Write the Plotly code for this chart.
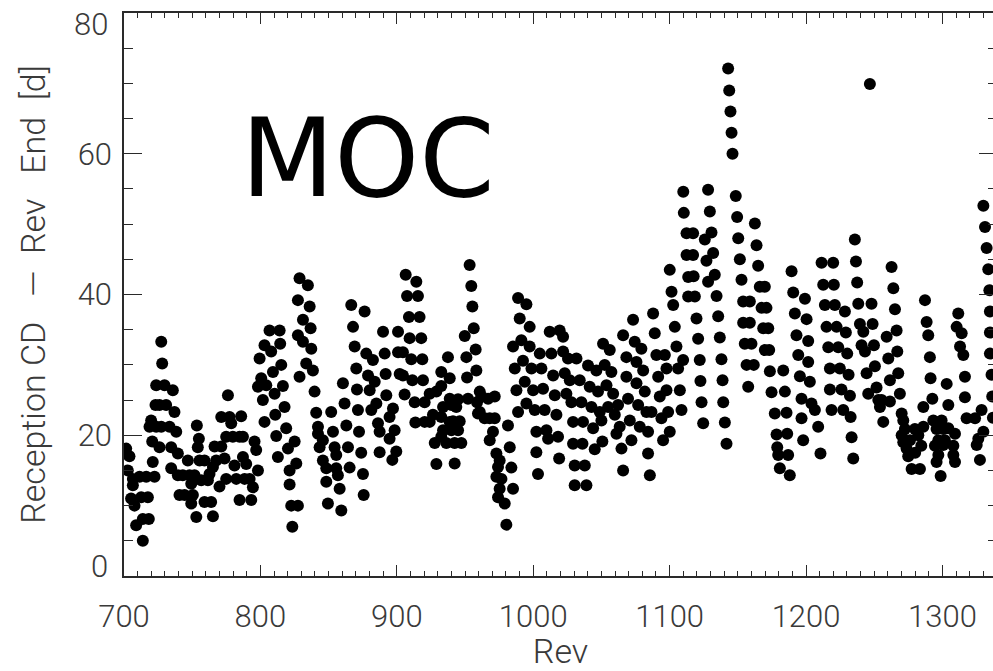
import plotly.graph_objects as go

# (rev, reception-CD delay in days) readings, grouped by rev range
revs_700s = [
    (701.6, 18.1), (704.0, 17.0), (702.8, 15.0), (706.5, 13.8), (706.5, 12.9), (705.2, 11.0),
    (707.7, 10.0), (708.9, 7.2), (713.8, 5.0), (711.4, 14.1), (716.3, 14.1), (712.6, 11.2),
    (717.5, 11.2), (713.8, 8.1), (718.2, 8.1), (722.4, 14.1), (721.1, 16.2), (720.7, 19.1),
    (718.7, 21.2), (719.9, 22.1), (723.6, 21.2), (723.1, 24.3), (723.6, 27.1), (728.0, 30.2),
    (727.3, 33.3), (726.0, 24.3), (729.7, 27.1), (726.0, 18.3), (727.3, 21.2), (730.9, 24.3),
    (733.4, 21.2), (734.6, 18.3), (735.8, 26.4), (737.0, 23.3), (738.3, 20.5), (739.5, 17.4),
    (734.6, 15.3), (739.5, 14.3), (743.1, 14.3), (740.7, 11.5), (744.4, 11.5), (746.8, 16.4),
    (748.0, 14.3), (749.3, 13.1), (751.7, 14.3), (750.5, 11.5), (749.3, 10.3), (753.0, 8.4),
    (753.4, 21.4), (754.9, 19.5), (754.1, 18.3), (755.4, 16.4), (759.0, 16.4), (756.6, 13.6),
    (761.5, 13.6), (759.0, 10.5), (763.9, 10.5), (765.2, 8.5), (762.7, 14.5), (765.2, 15.5),
    (767.6, 16.4), (770.0, 12.7), (766.4, 18.4), (771.3, 18.4), (771.3, 22.6), (773.7, 16.7),
    (774.9, 19.8), (776.2, 25.7), (777.4, 22.6), (778.6, 21.7), (774.9, 13.8), (779.8, 19.8),
    (781.0, 15.7), (782.3, 13.8), (784.7, 10.8), (785.9, 22.7), (784.7, 19.8), (787.2, 16.9),
    (787.2, 19.8), (789.6, 15.9), (788.4, 13.8), (792.1, 13.8), (793.3, 10.8), (794.5, 12.6),
    (795.7, 19.1), (796.9, 17.9), (798.2, 15.0), (798.2, 26.9), (799.4, 30.9),
]

revs_800s = [
    (800.6, 28.1), (801.8, 25.0), (803.0, 21.9), (803.0, 32.8), (804.3, 27.1), (806.7, 34.9),
    (807.9, 31.9), (809.2, 29.0), (810.4, 25.9), (810.9, 22.9), (811.6, 19.9), (812.8, 16.9),
    (814.1, 34.9), (814.5, 33.0), (815.3, 30.0), (816.5, 27.0), (817.7, 24.0), (818.9, 21.0),
    (820.2, 18.1), (821.4, 15.0), (821.4, 13.0), (822.6, 10.0), (823.4, 7.0), (827.5, 10.0),
    (825.1, 19.1), (826.3, 16.0), (828.7, 42.3), (827.5, 39.2), (827.5, 34.2), (828.7, 28.3),
    (831.2, 36.4), (831.2, 33.3), (833.6, 30.2), (834.8, 41.3), (836.1, 38.3), (836.8, 35.2),
    (837.3, 32.3), (838.5, 29.2), (839.7, 26.2), (840.9, 23.2), (842.2, 21.2), (842.2, 20.2),
    (843.4, 18.3), (845.8, 19.3), (845.8, 16.4), (848.3, 15.3), (848.3, 13.4), (849.5, 10.3),
    (851.9, 23.3), (853.2, 20.5), (854.4, 18.3), (855.6, 17.2), (855.6, 15.3), (856.8, 14.3),
    (858.1, 12.4), (859.3, 9.3), (860.5, 27.4), (861.7, 24.5), (863.0, 21.4), (864.2, 18.3),
    (865.4, 15.4), (866.6, 38.5), (867.9, 35.4), (869.1, 32.6), (870.3, 29.5), (870.8, 26.5),
    (871.5, 23.6), (872.3, 20.5), (873.9, 17.5), (875.2, 14.5), (875.7, 11.5), (876.4, 37.6),
    (877.6, 31.6), (878.9, 28.5), (880.1, 26.4), (881.3, 23.6), (882.5, 30.7), (883.8, 27.6),
    (885.0, 24.5), (886.2, 21.7), (887.4, 20.5), (887.4, 17.6), (889.9, 34.7), (891.1, 31.6),
    (891.8, 28.7), (892.3, 25.7), (894.7, 22.6), (894.7, 19.5), (896.7, 16.5), (897.2, 23.8),
    (898.4, 20.7), (899.6, 17.7),
]

revs_900s = [
    (900.9, 34.7), (900.9, 31.8), (902.1, 28.7), (904.5, 31.8), (904.5, 28.5), (905.7, 25.8),
    (906.5, 42.8), (907.5, 39.8), (908.9, 36.8), (909.4, 33.8), (910.6, 30.8), (911.4, 27.8),
    (913.1, 24.7), (913.6, 21.8), (914.3, 41.8), (915.5, 39.8), (916.7, 36.8), (917.9, 33.8),
    (918.7, 30.8), (919.2, 27.8), (920.4, 24.7), (920.4, 21.9), (924.1, 25.9), (924.1, 21.9),
    (926.5, 22.9), (927.8, 18.9), (929.0, 26.2), (929.0, 15.9), (932.6, 29.0), (932.6, 27.0),
    (932.6, 22.6), (932.6, 19.8), (933.9, 24.0), (933.9, 20.7), (936.3, 18.9), (937.5, 31.1),
    (938.8, 28.1), (938.8, 25.2), (938.8, 21.9), (940.0, 24.3), (940.0, 20.7), (941.2, 22.0),
    (942.4, 18.9), (942.4, 16.0), (943.6, 24.0), (944.9, 25.1), (944.9, 20.7), (946.1, 22.0),
    (947.3, 18.9), (949.8, 34.1), (951.0, 31.1), (951.5, 28.2), (952.2, 25.2), (953.4, 44.2),
    (954.6, 41.2), (955.4, 38.3), (956.4, 35.2), (957.8, 32.2), (958.3, 29.2), (958.8, 24.7),
    (959.5, 23.1), (960.8, 26.2), (962.0, 25.5), (960.8, 23.3), (964.4, 22.4), (966.9, 25.2),
    (968.1, 22.4), (968.1, 19.3), (970.5, 20.5), (971.8, 22.4), (971.8, 25.5), (973.0, 17.4),
    (973.0, 14.1), (974.2, 15.5), (974.2, 11.2), (975.4, 16.4), (975.4, 12.4), (976.7, 13.8),
    (979.1, 10.3), (980.3, 7.3), (981.5, 21.4), (982.8, 18.3), (984.0, 15.4), (985.2, 12.4),
    (985.2, 32.6), (986.5, 29.5), (987.7, 26.4), (988.9, 23.3), (988.9, 39.5), (990.1, 36.6),
    (991.3, 33.5), (992.5, 30.6), (993.8, 27.6), (995.0, 24.5), (995.0, 38.6), (997.4, 35.4),
    (997.4, 32.6), (998.7, 29.5), (999.9, 26.4),
]

revs_1000s = [
    (1001.1, 23.6), (1002.3, 20.5), (1002.3, 17.6), (1003.5, 14.5), (1004.8, 31.6), (1006.0, 29.5),
    (1007.2, 26.6), (1008.4, 23.6), (1009.7, 20.7), (1010.9, 19.5), (1012.1, 34.7), (1013.3, 31.6),
    (1014.6, 28.5), (1015.8, 25.7), (1017.0, 22.9), (1018.2, 19.8), (1019.0, 16.7), (1019.4, 34.9),
    (1021.9, 34.0), (1021.9, 31.9), (1023.1, 28.8), (1024.3, 25.9), (1025.5, 30.9), (1026.8, 27.8),
    (1028.0, 24.7), (1029.2, 21.9), (1029.2, 18.8), (1030.4, 15.7), (1030.4, 12.9), (1031.7, 30.9),
    (1034.1, 27.8), (1035.3, 24.7), (1036.5, 21.9), (1036.1, 18.8), (1037.8, 15.7), (1039.0, 12.9),
    (1040.2, 29.9), (1041.4, 26.9), (1042.7, 24.0), (1043.9, 21.0), (1045.1, 18.0), (1046.3, 29.2),
    (1047.5, 26.2), (1048.8, 23.3), (1050.0, 22.1), (1050.7, 19.1), (1051.2, 33.0), (1052.4, 30.0),
    (1053.7, 27.1), (1054.9, 24.0), (1056.1, 32.1), (1057.3, 29.0), (1058.6, 25.9), (1059.8, 22.9),
    (1061.0, 20.2), (1062.2, 24.3), (1063.4, 21.2), (1064.7, 18.1), (1065.9, 15.0), (1065.9, 34.2),
    (1068.3, 31.1), (1068.3, 28.3), (1069.5, 25.2), (1070.8, 22.1), (1072.0, 19.3), (1073.2, 36.4),
    (1074.4, 33.3), (1075.7, 30.4), (1075.7, 27.4), (1076.9, 24.3), (1078.1, 21.2), (1079.3, 32.3),
    (1080.6, 29.2), (1081.8, 26.2), (1083.0, 23.3), (1084.2, 20.5), (1084.2, 17.4), (1085.5, 14.3),
    (1086.7, 23.3), (1087.9, 37.3), (1089.1, 34.5), (1090.3, 31.4), (1091.6, 28.3), (1092.8, 25.5),
    (1094.0, 22.4), (1095.2, 19.3), (1096.5, 31.4), (1097.7, 29.5), (1097.7, 26.4), (1098.9, 23.3),
]

revs_1100s = [
    (1100.1, 20.5), (1100.1, 43.5), (1101.4, 40.4), (1102.6, 38.5), (1103.8, 35.4), (1105.0, 32.6),
    (1106.2, 29.5), (1107.5, 26.4), (1108.7, 23.6), (1109.9, 30.7),
    (1110.0, 54.6), (1110.4, 51.6), (1112.4, 48.7), (1112.4, 45.6), (1113.6, 42.5), (1113.6, 39.7),
    (1117.2, 48.7), (1117.2, 45.6), (1117.6, 42.6), (1118.5, 39.7), (1119.7, 36.6), (1120.9, 33.7),
    (1122.1, 30.7), (1122.6, 27.7), (1123.4, 24.7), (1124.6, 21.7),
    (1125.8, 47.8), (1127.0, 44.8), (1128.2, 41.8),
    (1128.2, 54.9), (1129.5, 51.8), (1130.7, 48.8), (1131.9, 45.9), (1133.1, 42.8), (1134.4, 39.8),
    (1135.6, 36.9), (1136.8, 33.9), (1138.0, 30.8), (1138.8, 27.8), (1139.3, 24.7), (1140.5, 21.8),
    (1141.7, 18.8),
    (1142.9, 72.1), (1143.7, 69.0), (1144.6, 66.0), (1145.4, 63.0), (1146.1, 60.0),
    (1148.5, 54.0), (1149.5, 51.0), (1150.3, 48.0), (1151.5, 45.0), (1152.7, 42.1), (1153.9, 39.0),
    (1153.9, 36.0), (1155.1, 33.0), (1156.4, 30.0), (1157.6, 26.9),
    (1158.8, 39.0), (1158.8, 36.0), (1160.0, 33.0), (1161.7, 30.0),
    (1162.5, 50.1), (1163.7, 47.0), (1164.9, 44.1), (1166.1, 41.1), (1167.4, 38.1), (1168.6, 35.2),
    (1169.8, 32.1), (1169.8, 41.1), (1171.0, 38.1), (1172.3, 35.2), (1173.0, 32.1), (1173.5, 29.1),
    (1174.7, 26.1), (1177.1, 23.1), (1178.4, 20.1), (1178.9, 18.3), (1179.6, 17.2), (1180.8, 15.3),
    (1183.3, 29.2), (1184.5, 26.2), (1185.7, 23.2), (1186.2, 20.2), (1186.9, 17.2), (1188.1, 14.3),
    (1189.4, 43.3), (1190.6, 40.3), (1191.8, 37.3), (1193.0, 34.2), (1194.3, 31.4), (1195.5, 28.4),
    (1196.7, 25.2), (1196.7, 22.4), (1197.9, 19.3), (1199.2, 39.4),
]

revs_1200s = [
    (1200.4, 36.5), (1201.6, 33.4), (1201.6, 30.4), (1202.8, 27.6), (1204.0, 24.5), (1206.5, 23.6),
    (1208.9, 21.2), (1210.6, 17.4),
    (1211.4, 44.5), (1212.6, 41.4), (1213.8, 38.5), (1215.0, 35.4), (1216.3, 32.5), (1217.5, 29.5),
    (1217.5, 26.5), (1218.7, 23.6),
    (1219.9, 44.5), (1220.4, 41.4), (1221.1, 38.5), (1222.4, 35.4), (1223.6, 32.5), (1224.8, 29.5),
    (1226.0, 26.5), (1227.3, 23.6),
    (1228.5, 37.6), (1229.2, 34.6), (1230.2, 31.6), (1231.2, 28.6), (1232.2, 25.6), (1232.7, 22.6),
    (1233.4, 19.7), (1234.6, 16.7),
    (1235.8, 47.8), (1236.6, 44.7), (1237.5, 41.7), (1238.3, 38.7), (1239.5, 35.8), (1240.7, 32.8),
    (1242.0, 34.7), (1243.2, 31.9), (1244.4, 28.8), (1245.6, 25.9),
    (1246.8, 69.9),
    (1248.0, 38.7), (1248.8, 35.8), (1249.8, 32.8), (1250.5, 29.8), (1251.7, 26.8), (1253.0, 25.0),
    (1254.2, 24.0), (1255.4, 25.0), (1256.6, 21.9),
    (1259.1, 34.0), (1260.3, 30.9), (1261.5, 27.8), (1261.5, 24.8),
    (1262.7, 43.9), (1264.0, 40.9), (1265.2, 37.9), (1266.4, 34.9), (1266.9, 31.9), (1267.6, 28.8),
    (1268.8, 25.9), (1270.1, 23.1), (1271.3, 22.1), (1270.1, 20.0), (1272.5, 20.9), (1271.3, 19.0),
    (1273.7, 18.1), (1274.9, 17.0), (1276.2, 19.3), (1277.4, 15.2), (1279.8, 20.9), (1280.0, 17.5),
    (1282.3, 20.0), (1283.5, 15.2), (1284.5, 18.5), (1286.0, 21.2), (1286.0, 24.0),
    (1287.2, 39.2), (1288.4, 36.1), (1289.6, 34.2), (1290.8, 31.1), (1291.3, 28.1), (1292.6, 25.2),
    (1293.3, 22.1), (1294.5, 18.5), (1295.7, 20.9), (1295.7, 16.2), (1297.0, 19.3), (1297.0, 17.2),
    (1298.7, 14.2), (1299.4, 22.1),
]

revs_1300s = [
    (1300.6, 20.9), (1300.6, 18.6), (1301.8, 19.3), (1303.1, 27.3), (1304.3, 24.3), (1304.3, 21.0),
    (1308.0, 18.5), (1308.0, 17.2), (1309.2, 20.2), (1309.2, 16.2),
    (1310.4, 35.4), (1311.6, 37.3), (1312.9, 32.6), (1314.1, 34.5), (1315.3, 31.4), (1316.5, 28.3),
    (1316.5, 25.4), (1317.7, 22.4), (1323.9, 22.4), (1325.1, 18.6), (1326.3, 19.5), (1327.5, 16.5),
    (1328.7, 23.6), (1330.0, 20.5),
    (1330.0, 52.6), (1331.2, 49.6), (1332.4, 46.6), (1333.6, 43.6), (1334.4, 40.6), (1334.8, 37.6),
    (1334.8, 34.6), (1334.8, 31.6), (1336.0, 28.6), (1336.5, 25.5), (1337.0, 22.5),
]

blocks = [revs_700s, revs_800s, revs_900s, revs_1000s, revs_1100s, revs_1200s, revs_1300s]
rev = [r for block in blocks for r, _ in block]
delay = [d for block in blocks for _, d in block]

x_ticks = [700, 800, 900, 1000, 1100, 1200, 1300]
y_ticks = [0, 20, 40, 60, 80]

INK = "#2a2a2a"
LABEL_FONT = dict(family="Roboto", size=31, color="#3a3a3a", weight=300)
TITLE_FONT = dict(family="Roboto", size=34, color="#3a3a3a", weight=300)

fig = go.Figure(
    go.Scatter(
        x=rev,
        y=delay,
        mode="markers",
        marker=dict(color="black", size=12, line=dict(width=0)),
        hovertemplate="Rev %{x:.0f}<br>%{y:.1f} d<extra></extra>",
    )
)

axis_common = dict(
    ticks="inside",
    showline=True,
    linecolor=INK,
    linewidth=1.5,
    tickcolor=INK,
    tickwidth=1.3,
    mirror="ticks",
    showgrid=False,
    zeroline=False,
    tickfont=LABEL_FONT,
    ticklabeloverflow="allow",
    automargin=False,
)

fig.update_xaxes(
    range=[700, 1340],
    tickvals=x_ticks,
    ticktext=[str(v) for v in x_ticks],
    ticklen=11,
    minor=dict(dtick=10, tick0=700, ticks="inside", ticklen=5, tickcolor=INK, tickwidth=1.2, showgrid=False),
    title=dict(text="Rev", font=TITLE_FONT, standoff=7),
    ticklabelstandoff=12,
    **axis_common,
)

# the end labels (0 and 80) are nudged inward so they stay clear of the
# corners, so they are placed as separate annotations
inner_ticks = y_ticks[1:-1]
fig.update_yaxes(
    range=[y_ticks[0], y_ticks[-1]],
    tickvals=y_ticks,
    ticktext=[str(v) if v in inner_ticks else "" for v in y_ticks],
    ticklen=18,
    minor=dict(dtick=5, tick0=0, ticks="inside", ticklen=9, tickcolor=INK, tickwidth=1.2, showgrid=False),
    title=dict(text="Reception CD   \u2014  Rev   End  [d]", font=TITLE_FONT, standoff=22),
    ticklabelstandoff=4,
    **axis_common,
)

for value, shift in ((y_ticks[0], 10), (y_ticks[-1], -11)):
    fig.add_annotation(
        x=0, y=value, xref="paper", yref="y",
        text=str(value), showarrow=False,
        xanchor="right", yanchor="middle", xshift=-14, yshift=shift,
        font=LABEL_FONT,
    )

fig.add_annotation(
    x=784, y=59.3, xref="x", yref="y",
    text="MOC", showarrow=False,
    xanchor="left", yanchor="middle",
    font=dict(family="DejaVu Sans", size=108, color="black"),
)

fig.update_layout(
    width=1000,
    height=671,
    margin=dict(l=124, r=3, t=13, b=95),
    paper_bgcolor="white",
    plot_bgcolor="white",
    showlegend=False,
)

fig.write_html(
    "out.html",
    post_script="document.documentElement.style.overflow='hidden';document.body.style.overflow='hidden';",
)
